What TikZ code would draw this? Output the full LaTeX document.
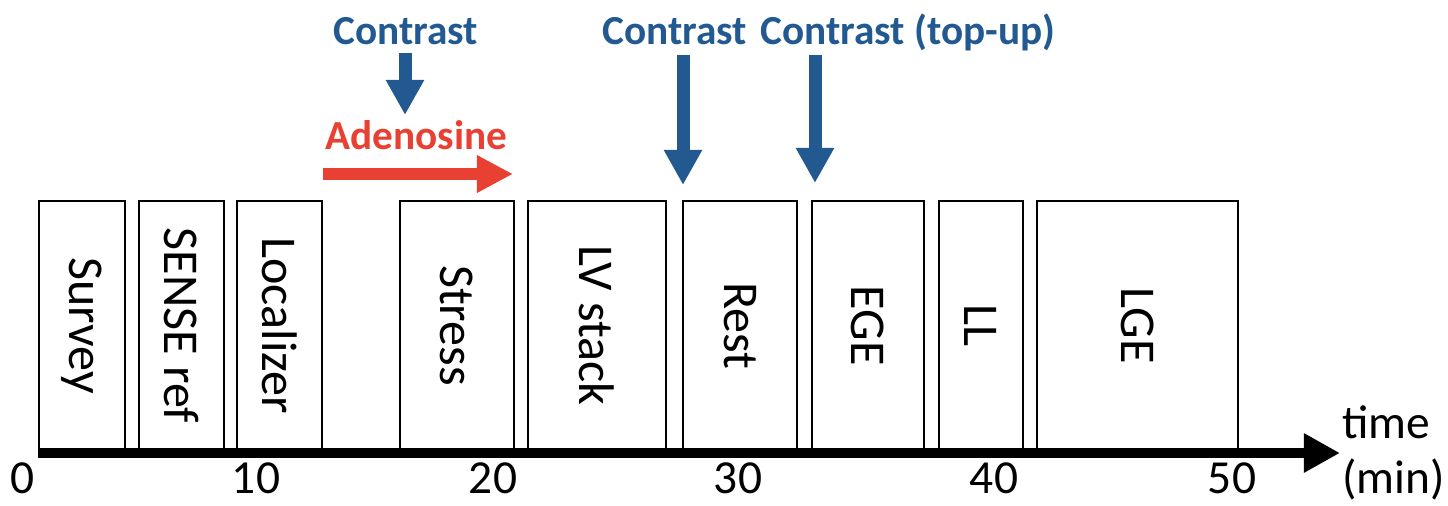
\documentclass[tikz,border=0pt]{standalone}
\usepackage{fontspec}
\setmainfont{Carlito}
\usepackage{tikz}
\usetikzlibrary{arrows.meta}
\usetikzlibrary{positioning}
\definecolor{contrastblue}{RGB}{34,89,145}
\definecolor{adenored}{RGB}{232,64,50}
\tikzset{
stepbox/.style={draw,line width=1.6pt,minimum height=4.98cm,inner sep=0pt,outer sep=0pt,anchor=south west,font=\fontsize{28.5}{32}\selectfont},
druglabel/.style={font=\fontsize{23.5}{26}\selectfont\bfseries,anchor=base west,inner sep=0pt},
bluearrow/.style={contrastblue,line width=7.4pt,-{Triangle[length=20pt,width=20.5pt]}},
redarrow/.style={adenored,line width=6.8pt,-{Triangle[length=20.5pt,width=20pt]}},
ticklabel/.style={font=\fontsize{27}{30}\selectfont,anchor=base,inner sep=0pt}
}

\begin{document}
\begin{tikzpicture}[x=0.02cm,y=-0.02cm]
\useasboundingbox (0,0) rectangle (1448,506);

\node[stepbox,minimum width=1.72cm] (survey) at (39,450) {\rotatebox{-90}{Survey}};
\node[stepbox,minimum width=1.70cm] (senseref) at (139,450) {\rotatebox{-90}{SENSE ref}};
\node[stepbox,minimum width=1.70cm] (localizer) at (237,450) {\rotatebox{-90}{Localizer}};
\node[stepbox,minimum width=2.28cm] (stress) at (400,450) {\rotatebox{-90}{Stress}};
\node[stepbox,minimum width=2.76cm] (lvstack) at (528,450) {\rotatebox{-90}{LV stack}};
\node[stepbox,minimum width=2.28cm] (rest) at (683,450) {\rotatebox{-90}{Rest}};
\node[stepbox,minimum width=2.24cm] (ege) at (812,450) {\rotatebox{-90}{EGE}};
\node[stepbox,minimum width=1.68cm] (ll) at (939,450) {\rotatebox{-90}{LL}};
\node[stepbox,minimum width=4.02cm] (lge) at (1037,450) {\rotatebox{-90}{LGE}};

\coordinate (axisstart) at (38,453);
\coordinate (axisend) at (1340,453);
\draw[line width=5.7pt,-{Triangle[length=20.5pt,width=21pt]}] (axisstart) -- (axisend);
\node[font=\fontsize{27}{31}\selectfont,align=left,anchor=west,inner sep=0pt] (timelabel) at (1342,453) {time\\(min)};

\node[ticklabel] (tick0) at (23,494) {0};
\node[ticklabel] (tick10) at (256,494) {10};
\node[ticklabel] (tick20) at (493,494) {20};
\node[ticklabel] (tick30) at (738,494) {30};
\node[ticklabel] (tick40) at (994,494) {40};
\node[ticklabel] (tick50) at (1232,494) {50};

\node[druglabel,text=contrastblue] (stresscontrast) at (333,45) {Contrast};
\node[druglabel,text=contrastblue] (restcontrast) at (602,45) {Contrast};
\node[druglabel,text=contrastblue] (topupcontrast) at (760,45) {Contrast (top-up)};
\node[druglabel,text=adenored] (adenosine) at (325,150) {Adenosine};

\coordinate (stressfrom) at (405,53);
\coordinate (stressto) at (405,115);
\coordinate (restfrom) at (683,55);
\coordinate (restto) at (683,185);
\coordinate (topupfrom) at (815,55);
\coordinate (topupto) at (815,183);
\coordinate (adenofrom) at (323,174);
\coordinate (adenoto) at (513,174);
\draw[bluearrow] (stressfrom) -- (stressto);
\draw[bluearrow] (restfrom) -- (restto);
\draw[bluearrow] (topupfrom) -- (topupto);
\draw[redarrow] (adenofrom) -- (adenoto);

\end{tikzpicture}
\end{document}
